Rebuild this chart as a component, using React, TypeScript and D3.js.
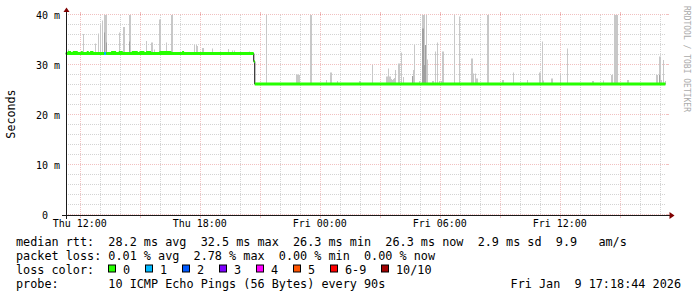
import React from 'react';
import * as d3 from 'd3';

const W = 697;
const H = 297;
const FONT = '"DejaVu Sans Mono", monospace';

const START = '2026-01-08 11:18:44';
const END = '2026-01-09 17:18:44';

// median rtt (ms) change points: [time, value, lossIndex]
const medianSteps: [string, number, number][] = [
  ['2026-01-08 11:18', 32.3, 0],
  ['2026-01-08 13:13', 32.3, 1],
  ['2026-01-08 13:19', 32.3, 0],
  ['2026-01-08 20:42', 30.7, 0],
  ['2026-01-08 20:45', 26.2, 0],
];
const medianEnd = '2026-01-09 17:17';

// small upward ripples of the median line: [from, to]
const medianBumps: [string, string][] = [
  ['2026-01-08 11:24', '2026-01-08 11:34'],
  ['2026-01-08 11:39', '2026-01-08 11:54'],
  ['2026-01-08 12:04', '2026-01-08 12:09'],
  ['2026-01-08 12:21', '2026-01-08 12:27'],
  ['2026-01-08 12:31', '2026-01-08 12:41'],
  ['2026-01-08 13:34', '2026-01-08 13:49'],
  ['2026-01-08 13:57', '2026-01-08 14:09'],
  ['2026-01-08 14:36', '2026-01-08 14:54'],
  ['2026-01-08 14:59', '2026-01-08 15:14'],
  ['2026-01-08 15:19', '2026-01-08 15:34'],
  ['2026-01-08 15:59', '2026-01-08 16:35'],
  ['2026-01-08 17:07', '2026-01-08 17:13'],
];

// smoke spikes Thursday: [time, high ms, dark high ms (0 = none)]
const thuSpikes: [string, number, number][] = [
  ['11:24', 33.1, 0], ['12:11', 36.2, 0], ['12:47', 34.3, 0], ['12:55', 36.3, 0],
  ['13:00', 38.0, 0], ['13:07', 38.9, 0], ['13:12', 40, 36.5], ['13:15', 40, 0],
  ['13:18', 40, 34.5], ['13:59', 36.5, 0], ['14:11', 37.6, 0], ['14:14', 37.6, 0],
  ['14:27', 40, 34.7], ['14:30', 40, 0], ['15:19', 34.8, 0], ['15:34', 34.5, 0],
  ['15:37', 34.5, 0], ['15:44', 33.1, 0], ['15:59', 39.1, 0], ['16:02', 39.1, 0],
  ['16:19', 34.5, 0], ['16:35', 40, 0], ['16:38', 40, 0], ['17:44', 34.0, 0],
  ['17:48', 34.0, 0], ['17:51', 33.8, 0], ['18:07', 33.4, 0], ['18:10', 33.4, 0],
  ['18:37', 33.3, 0], ['19:26', 33.2, 0], ['19:36', 32.9, 0], ['19:42', 32.9, 0],
  ['20:27', 32.7, 0], ['21:19', 40, 0], ['22:49', 28.1, 0], ['22:52', 28.1, 0],
  ['22:56', 28.0, 0], ['22:59', 28.0, 0], ['23:32', 40, 0], ['23:35', 40, 0],
];

// smoke spikes Friday
const friSpikes: [string, number, number][] = [
  ['00:19', 27.0, 0], ['00:31', 28.5, 0], ['00:34', 28.5, 0], ['00:52', 26.8, 0],
  ['01:59', 26.8, 0], ['02:02', 26.8, 0], ['02:37', 30.0, 0], ['03:19', 27.7, 0],
  ['03:22', 27.7, 0], ['03:25', 29.3, 0], ['03:28', 27.7, 0], ['03:31', 27.7, 0],
  ['03:34', 27.2, 0], ['03:37', 27.0, 0], ['03:40', 27.2, 0], ['03:44', 27.4, 0],
  ['03:46', 29.0, 0], ['03:54', 30.3, 0], ['03:57', 30.3, 0], ['04:04', 32.5, 0],
  ['04:09', 27.6, 0], ['04:37', 27.8, 27.8], ['04:40', 29.0, 0], ['04:44', 34.0, 0],
  ['04:57', 26.8, 0], ['05:07', 40, 37.3], ['05:10', 40, 37.3], ['05:13', 40, 30.0],
  ['05:16', 34.0, 34.0], ['05:19', 40, 0], ['05:23', 31.1, 0], ['05:37', 26.8, 0],
  ['05:40', 26.8, 0], ['05:47', 32.7, 0], ['05:51', 34.5, 0], ['05:59', 26.8, 0],
  ['06:03', 26.8, 0], ['06:07', 32.7, 0], ['06:10', 32.7, 0], ['06:44', 40, 0],
  ['06:59', 39.7, 0], ['07:34', 31.3, 0], ['07:37', 31.3, 0], ['07:41', 28.3, 0],
  ['07:45', 28.3, 0], ['07:49', 27.3, 0], ['07:52', 27.3, 0], ['08:22', 40, 0],
  ['08:25', 40, 0], ['09:07', 27.0, 0], ['09:10', 27.0, 0], ['09:40', 28.5, 0],
  ['10:22', 27.0, 0], ['10:59', 28.5, 0], ['11:02', 28.5, 0], ['11:07', 34.7, 0],
  ['11:11', 26.9, 0], ['11:34', 27.3, 0], ['11:37', 27.3, 0], ['12:02', 28.3, 0],
  ['12:22', 33.3, 0], ['13:37', 26.8, 0], ['13:40', 26.8, 0], ['14:09', 26.9, 0],
  ['14:33', 28.0, 0], ['14:36', 28.0, 0], ['14:44', 40, 0], ['14:47', 40, 0],
  ['14:50', 40, 0], ['14:53', 40, 0], ['15:22', 27.0, 0], ['15:25', 27.0, 0],
  ['16:49', 28.0, 0], ['16:52', 28.0, 0], ['16:57', 31.7, 28.0], ['17:00', 31.7, 0],
  ['17:04', 27.0, 0], ['17:10', 31.0, 0], ['17:15', 26.8, 0],
];

const lossLabels = ['0', '1', '2', '3', '4', '5', '6-9', '10/10'];
const lossColors = ['#26ff00', '#00b8ff', '#0059ff', '#7e00ff', '#ff00ff', '#ff5500', '#ff0000', '#a10000'];

const yMajorTicks = [0, 10, 20, 30, 40];
const yTickUnits = ['', 'm', 'm', 'm', 'm'];

const legendRow1 = 'median rtt:  28.2 ms avg  32.5 ms max  26.3 ms min  26.3 ms now  2.9 ms sd  9.9   am/s';
const legendRow2 = 'packet loss: 0.01 % avg  2.78 % max  0.00 % min  0.00 % now';
const legendRow3 = 'loss color:';
const legendRow4 = 'probe:       10 ICMP Echo Pings (56 Bytes) every 90s';
const timestamp = 'Fri Jan  9 17:18:44 2026';
const yTitle = 'Seconds';
const watermark = 'RRDTOOL / TOBI OETIKER';

const parseFull = d3.timeParse('%Y-%m-%d %H:%M:%S');
const parseMin = d3.timeParse('%Y-%m-%d %H:%M');
const nb = (s: string) => s.replace(/ /g, '\u00a0');

export default function App() {
  const t0 = parseFull(START)!;
  const t1 = parseFull(END)!;
  const x = d3.scaleTime().domain([t0, t1]).range([66, 666]);
  const y = d3.scaleLinear().domain([0, 40]).range([215, 15]);

  const steps = medianSteps.map(([t, v, l]) => ({ t: parseMin(t)!, v, l }));
  const tEnd = parseMin(medianEnd)!;
  const medianAt = (t: Date) => {
    let v = steps[0].v;
    for (const s of steps) if (s.t <= t) v = s.v;
    return v;
  };

  const spikes = [
    ...thuSpikes.map(([t, hi, dk]) => ({ t: parseMin('2026-01-08 ' + t)!, hi, dk })),
    ...friSpikes.map(([t, hi, dk]) => ({ t: parseMin('2026-01-09 ' + t)!, hi, dk })),
  ];

  const minorX = d3.timeHour.every(1)!.range(t0, t1);
  const majorX = d3.timeHour.every(3)!.range(t0, t1);
  const labelX = d3.timeHour.every(6)!.range(t0, t1);
  const fmt = d3.timeFormat('%a %H:%M');
  const minorY = d3.range(0, 41, 2);

  const stepPts: [Date, number][] = [];
  steps.forEach((s) => stepPts.push([s.t, s.v]));
  stepPts.push([tEnd, steps[steps.length - 1].v]);
  const stepLine = d3
    .line<[Date, number]>()
    .x((d) => x(d[0]))
    .y((d) => y(d[1]))
    .curve(d3.curveStepAfter);

  const minorColor = 'rgba(128,128,128,0.35)';
  const majorColor = 'rgba(210,60,60,0.32)';
  const isMajorX = (d: Date) => d.getHours() % 3 === 0 && d.getMinutes() === 0;

  const legendBoxX: number[] = [];
  let bx = 108.5;
  lossLabels.forEach((l) => {
    legendBoxX.push(bx);
    bx += 30 + 7 * l.length;
  });

  const px = (v: number) => Math.round(v) + 0.5;

  return (
    <svg width={W} height={H} style={{ display: 'block', position: 'absolute', left: 0, top: 0 }}>
      <rect x={0} y={0} width={W} height={H} fill="#ffffff" />
      {/* horizontal grid */}
      {minorY.map((v) => (
        <line key={'hy' + v} x1={66} x2={666} y1={px(y(v)) - 1} y2={px(y(v)) - 1}
          stroke={v % 10 === 0 ? majorColor : minorColor} strokeDasharray="1,1" />
      ))}
      {/* vertical grid */}
      {minorX.map((d) => (
        <line key={'vx' + d.getTime()} x1={px(x(d))} x2={px(x(d))} y1={15} y2={215}
          stroke={isMajorX(d) ? majorColor : minorColor} strokeDasharray="1,1" />
      ))}
      {majorX.map((d) => (
        <g key={'tk' + d.getTime()}>
          <line x1={px(x(d))} x2={px(x(d))} y1={215} y2={218} stroke={majorColor} />
          <line x1={px(x(d))} x2={px(x(d))} y1={12} y2={15} stroke={majorColor} />
        </g>
      ))}
      {yMajorTicks.map((v) => (
        <line key={'yt' + v} x1={666} x2={669} y1={px(y(v)) - 1} y2={px(y(v)) - 1} stroke={majorColor} />
      ))}

      {/* smoke */}
      {spikes.map((s, i) => {
        const lo = medianAt(s.t);
        const xa = Math.round(x(s.t));
        const xb = Math.max(xa + 1, Math.round(x(d3.timeMinute.offset(s.t, 3))));
        return (
          <g key={'sp' + i}>
            <rect x={xa} y={y(s.hi)} width={xb - xa} height={Math.max(0, y(lo) - y(s.hi))} fill="#c8c8c8" />
            {s.dk > 0 && (
              <rect x={xa} y={y(s.dk)} width={xb - xa} height={Math.max(0, y(lo) - y(s.dk))} fill="#a0a0a0" />
            )}
          </g>
        );
      })}

      {/* median */}
      <path d={stepLine(stepPts) || ''} fill="none" stroke="#000000" strokeWidth={1} />
      {steps.map((s, i) => {
        const te = i + 1 < steps.length ? steps[i + 1].t : tEnd;
        return (
          <line key={'md' + i} x1={x(s.t)} x2={x(te)} y1={y(s.v)} y2={y(s.v)}
            stroke={lossColors[s.l]} strokeWidth={3} />
        );
      })}
      {medianBumps.map(([a, b], i) => {
        const ta = parseMin(a)!;
        const tb = parseMin(b)!;
        const v = medianAt(ta);
        return <rect key={'bp' + i} x={x(ta)} y={y(v) - 2.5} width={x(tb) - x(ta)} height={1} fill={lossColors[0]} />;
      })}

      {/* axes */}
      <line x1={62} x2={670} y1={215.5} y2={215.5} stroke="#1a1a1a" />
      <line x1={66.5} x2={66.5} y1={219} y2={11} stroke="#1a1a1a" />
      <path d="M669.5,212 L674.5,215.5 L669.5,219 Z" fill="#7f0000" />
      <path d="M63.5,12 L66.5,7.5 L69.5,12 Z" fill="#7f0000" />

      {/* y labels */}
      {yMajorTicks.map((v, i) => (
        <g key={'yl' + v} fontFamily={FONT} fontSize={10} fill="#000">
          <text x={48} y={y(v) + 4} textAnchor="end">{v}</text>
          <text x={54} y={y(v) + 4}>{yTickUnits[i]}</text>
        </g>
      ))}
      {/* x labels */}
      {labelX.map((d) => (
        <text key={'xl' + d.getTime()} x={x(d)} y={227} textAnchor="middle" fontFamily={FONT} fontSize={10} fill="#000">
          {fmt(d)}
        </text>
      ))}

      <text transform="translate(15,114) rotate(-90)" textAnchor="middle" fontFamily={FONT} fontSize={11.7} fill="#000">
        {yTitle}
      </text>
      <text transform="translate(684,59) rotate(90)" textAnchor="middle" fontFamily={FONT} fontSize={8} fill="#aaaaaa">
        {watermark}
      </text>

      {/* legend */}
      <g fontFamily={FONT} fontSize={11.8} fill="#000">
        <text x={16} y={245.5}>{nb(legendRow1)}</text>
        <text x={16} y={259.5}>{nb(legendRow2)}</text>
        <text x={16} y={273.5}>{nb(legendRow3)}</text>
        {lossLabels.map((l, i) => (
          <g key={'lg' + i}>
            <rect x={legendBoxX[i]} y={265} width={7} height={7} fill={lossColors[i]} stroke="#000" strokeWidth={1} />
            <text x={legendBoxX[i] + 14.5} y={273.5}>{l}</text>
          </g>
        ))}
        <text x={16} y={287.5}>{nb(legendRow4)}</text>
        <text x={681} y={287.5} textAnchor="end">{nb(timestamp)}</text>
      </g>
    </svg>
  );
}
